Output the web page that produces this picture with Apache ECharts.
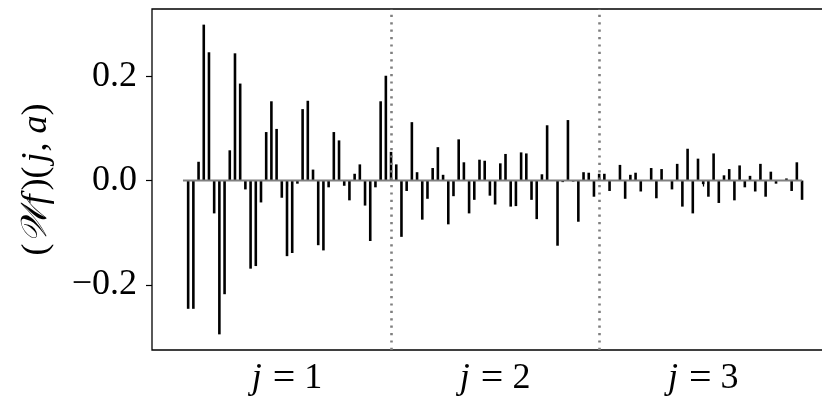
<!DOCTYPE html>
<html>
<head>
<meta charset="utf-8">
<script src="https://cdn.jsdelivr.net/npm/echarts@6/dist/echarts.min.js"></script>
<style>
html,body{margin:0;padding:0;background:#fff;}
#chart{width:822px;height:401px;}
</style>
</head>
<body>
<div id="chart"></div>
<script>
// Wavelet coefficients per level (40 coefficients each)
const levels = [1, 2, 3];
const coeffsPerLevel = 40;
const level1 = [0, -0.246, -0.246, 0.036, 0.299, 0.246, -0.063, -0.295, -0.218, 0.058,
  0.244, 0.186, -0.017, -0.169, -0.164, -0.042, 0.093, 0.152, 0.099, -0.033,
  -0.145, -0.139, -0.006, 0.137, 0.153, 0.021, -0.124, -0.134, -0.013, 0.093,
  0.077, -0.010, -0.038, 0.013, 0.031, -0.048, -0.116, -0.013, 0.152, 0.201];
const level2 = [0.055, 0.031, -0.108, -0.020, 0.112, 0.016, -0.075, -0.035, 0.024, 0.064,
  0.011, -0.084, -0.030, 0.079, 0.035, -0.063, -0.037, 0.040, 0.038, -0.029,
  -0.046, 0.033, 0.051, -0.050, -0.049, 0.054, 0.052, -0.037, -0.074, 0.012,
  0.106, 0.0, -0.125, -0.003, 0.116, -0.002, -0.079, 0.016, 0.015, -0.031];
const level3 = [0.013, 0.013, -0.020, 0, 0.030, -0.035, 0.011, 0.015, -0.021, 0,
  0.024, -0.034, 0.022, 0, -0.017, 0.032, -0.050, 0.061, -0.063, 0.042,
  -0.007, -0.031, 0.052, -0.043, 0.010, 0.022, -0.038, 0.029, -0.013, 0.009,
  -0.021, 0.032, -0.031, 0.017, -0.006, 0, 0.004, -0.020, 0.035, -0.037];
const yTicks = [-0.2, 0.0, 0.2];
const xTickLabels = ['1', '2', '3'];

const allLevels = [level1, level2, level3];
const points = [];
allLevels.forEach((arr, li) => {
  arr.forEach((v, i) => {
    points.push([levels[li] - 0.5 + i / coeffsPerLevel, v]);
  });
});
const xFirst = points[0][0];
const xLast = points[points.length - 1][0];
const boundaries = levels.slice(0, -1).map(j => j + 0.5);

const serif = 'Liberation Serif, DejaVu Serif, serif';
const chart = echarts.init(document.getElementById('chart'), null, {renderer: 'canvas'});
chart.setOption({
  animation: false,
  backgroundColor: '#fff',
  grid: {
    left: 152, top: 9, right: -11, bottom: 51,
    show: true, borderColor: '#000', borderWidth: 1.3, backgroundColor: 'transparent',
    outerBoundsMode: 'none'
  },
  xAxis: {
    type: 'value',
    min: 0.35125, max: 3.62375,
    axisLine: {show: false},
    splitLine: {show: false},
    axisTick: {show: true, length: 6, inside: false, customValues: levels,
      lineStyle: {color: '#000', width: 1.2}},
    axisLabel: {
      customValues: levels,
      margin: 9,
      fontFamily: serif, fontSize: 36, color: '#000',
      formatter: v => '{i|j}{e|=}' + xTickLabels[levels.indexOf(Math.round(v))],
      rich: {
        i: {fontFamily: serif, fontStyle: 'italic', fontSize: 36, color: '#000'},
        e: {fontFamily: serif, fontSize: 40, color: '#000', padding: [0, 9, 0, 11]}
      }
    }
  },
  yAxis: {
    type: 'value',
    min: -0.325, max: 0.329,
    axisLine: {show: false},
    splitLine: {show: false},
    axisTick: {show: true, length: 6, customValues: yTicks,
      lineStyle: {color: '#000', width: 1.2}},
    axisLabel: {
      customValues: yTicks,
      margin: 15,
      fontFamily: serif, fontSize: 36, color: '#000',
      formatter: v => v.toFixed(1).replace('-', '\u2212')
    },
    name: '({w|\uD835\uDCB2}{f|f})({j|j}, {i|a})',
    nameLocation: 'middle',
    nameRotate: 90,
    nameGap: 97,
    nameTextStyle: {
      fontFamily: serif, fontSize: 36, color: '#000',
      rich: {
        i: {fontFamily: serif, fontStyle: 'italic', fontSize: 36, color: '#000'},
        f: {fontFamily: serif, fontStyle: 'italic', fontSize: 36, color: '#000', padding: [0, 4, 0, 1]},
        j: {fontFamily: serif, fontStyle: 'italic', fontSize: 36, color: '#000', padding: [0, 1, 0, 4]},
        w: {fontFamily: 'DejaVu Serif, DejaVu Sans, Noto Sans, serif', fontStyle: 'italic', fontSize: 36, color: '#000'}
      }
    }
  },
  series: [
    {
      type: 'bar',
      data: points,
      barWidth: 2.6,
      itemStyle: {color: '#000'},
      silent: true,
      z: 2
    },
    {
      type: 'line',
      data: [[xFirst, 0], [xLast, 0]],
      symbol: 'none',
      lineStyle: {color: '#808080', width: 2},
      silent: true,
      z: 3,
      markLine: {
        silent: true,
        symbol: 'none',
        label: {show: false},
        lineStyle: {color: '#7f7f7f', width: 2.6, type: [2.2, 5.2]},
        data: boundaries.map(b => ({xAxis: b})),
        z: 4
      }
    }
  ]
});
</script>
</body>
</html>
